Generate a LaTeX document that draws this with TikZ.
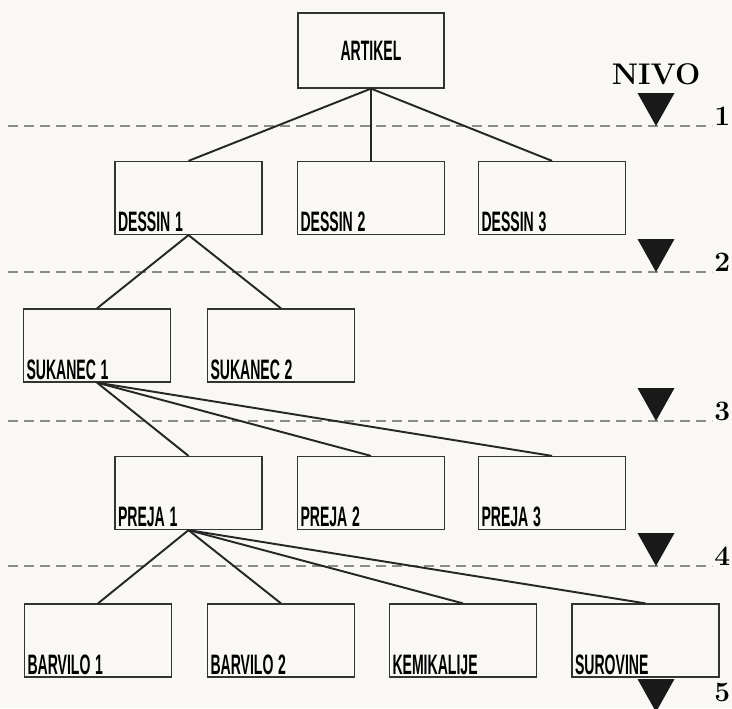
\documentclass[tikz,border=0pt]{standalone}
\usepackage{fontspec}
\usepackage{graphicx}
\newfontfamily\stencil{Liberation Sans}
\newcommand{\narrow}[1]{\scalebox{0.5}[1]{#1}}
\definecolor{paper}{RGB}{249,248,244}

\begin{document}
\begin{tikzpicture}[
  cell/.style={draw=black!80, line width=0.7pt, inner sep=0.06cm, text width=2.82cm,
    text height=1.34cm, text depth=0pt, align=left, font=\stencil\bfseries\fontsize{16}{16}\selectfont},
  link/.style={black!85, line width=1.1pt},
  level/.style={black!45, line width=0.8pt, dash pattern=on 0.2cm off 0.12cm},
  nivo/.style={font=\bfseries\fontsize{16}{16}\selectfont, anchor=base west, inner sep=0pt}
]
  \useasboundingbox (0,0) rectangle (14.64,14.16);
  \clip (0,0) rectangle (14.64,14.16);
  \fill[paper] (0,0) rectangle (14.64,14.16);

  % levels
  \draw[level] (0.16,11.64) -- (14.24,11.64);
  \draw[level] (0.16,8.72) -- (14.24,8.72);
  \draw[level] (0.16,5.74) -- (14.24,5.74);
  \draw[level] (0.16,2.84) -- (14.24,2.84);
  \fill[black!90] (12.75,12.30) -- (13.49,12.30) -- (13.12,11.64) -- cycle;
  \fill[black!90] (12.75,9.38) -- (13.49,9.38) -- (13.12,8.72) -- cycle;
  \fill[black!90] (12.75,6.40) -- (13.49,6.40) -- (13.12,5.74) -- cycle;
  \fill[black!90] (12.75,3.50) -- (13.49,3.50) -- (13.12,2.84) -- cycle;
  \fill[black!90] (12.75,0.58) -- (13.49,0.58) -- (13.12,-0.08) -- cycle;
  \node[font=\bfseries\fontsize{17}{17}\selectfont, inner sep=0pt] (nivo) at (13.12,12.68) {NIVO};
  \node[nivo] (n1) at (14.28,11.66) {1};
  \node[nivo] (n2) at (14.28,8.74) {2};
  \node[nivo] (n3) at (14.28,5.76) {3};
  \node[nivo] (n4) at (14.28,2.86) {4};
  \node[nivo] (n5) at (14.28,0.14) {5};

  % tree
  \node[draw=black!80, line width=0.7pt, minimum width=2.92cm, minimum height=1.5cm,
    font=\stencil\bfseries\fontsize{16}{16}\selectfont] (artikel) at (7.42,13.15) {\narrow{ARTIKEL}};
  \node[cell] (dessin1) at (3.77,10.2) {\narrow{DESSIN 1}};
  \node[cell] (dessin2) at (7.42,10.2) {\narrow{DESSIN 2}};
  \node[cell] (dessin3) at (11.04,10.2) {\narrow{DESSIN 3}};
  \node[cell] (sukanec1) at (1.94,7.25) {\narrow{SUKANEC 1}};
  \node[cell] (sukanec2) at (5.62,7.25) {\narrow{SUKANEC 2}};
  \node[cell] (preja1) at (3.77,4.3) {\narrow{PREJA 1}};
  \node[cell] (preja2) at (7.42,4.3) {\narrow{PREJA 2}};
  \node[cell] (preja3) at (11.04,4.3) {\narrow{PREJA 3}};
  \node[cell] (barvilo1) at (1.96,1.35) {\narrow{BARVILO 1}};
  \node[cell] (barvilo2) at (5.62,1.35) {\narrow{BARVILO 2}};
  \node[cell] (kemikalije) at (9.26,1.35) {\narrow{KEMIKALIJE}};
  \node[cell] (surovine) at (12.91,1.35) {\narrow{SUROVINE}};

  \draw[link] (artikel.south) -- (dessin1.north);
  \draw[link] (artikel.south) -- (dessin2.north);
  \draw[link] (artikel.south) -- (dessin3.north);
  \draw[link] (dessin1.south) -- (sukanec1.north);
  \draw[link] (dessin1.south) -- (sukanec2.north);
  \draw[link] (sukanec1.south) -- (preja1.north);
  \draw[link] (sukanec1.south) -- (preja2.north);
  \draw[link] (sukanec1.south) -- (preja3.north);
  \draw[link] (preja1.south) -- (barvilo1.north);
  \draw[link] (preja1.south) -- (barvilo2.north);
  \draw[link] (preja1.south) -- (kemikalije.north);
  \draw[link] (preja1.south) -- (surovine.north);
\end{tikzpicture}
\end{document}
